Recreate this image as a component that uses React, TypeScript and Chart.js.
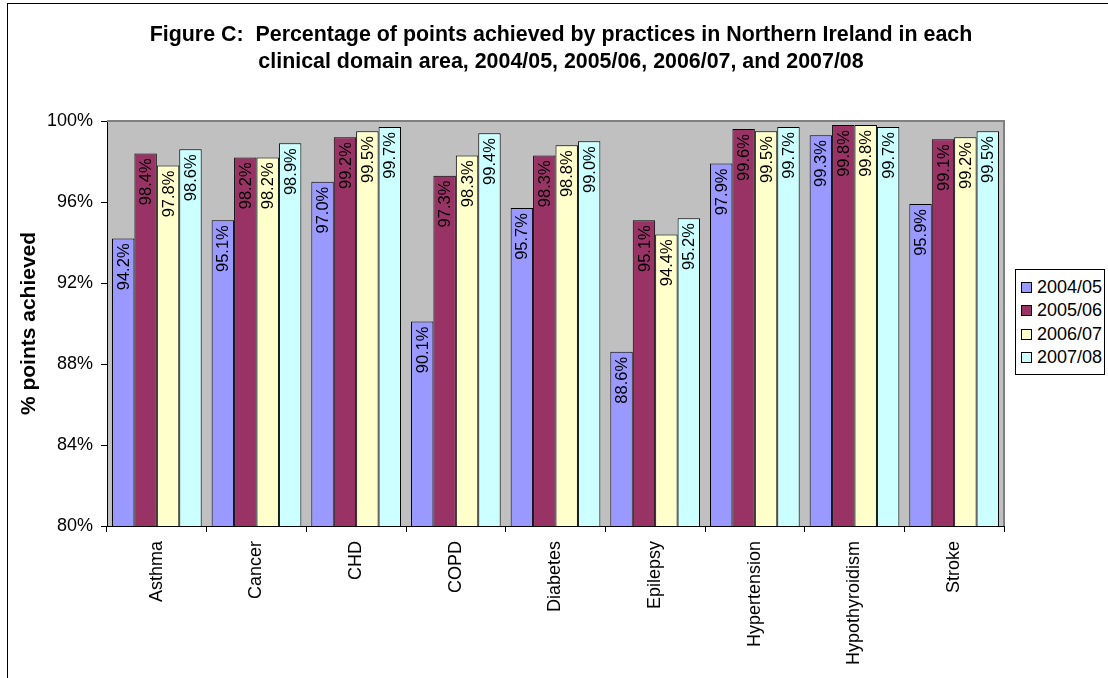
import React, { useEffect, useRef } from "react";
import { Chart, registerables } from "chart.js";

Chart.register(...registerables);

const categories = ["Asthma", "Cancer", "CHD", "COPD", "Diabetes", "Epilepsy", "Hypertension", "Hypothyroidism", "Stroke"];
const seriesNames = ["2004/05", "2005/06", "2006/07", "2007/08"];
const values2004 = [94.2, 95.1, 97.0, 90.1, 95.7, 88.6, 97.9, 99.3, 95.9];
const values2005 = [98.4, 98.2, 99.2, 97.3, 98.3, 95.1, 99.6, 99.8, 99.1];
const values2006 = [97.8, 98.2, 99.5, 98.3, 98.8, 94.4, 99.5, 99.8, 99.2];
const values2007 = [98.6, 98.9, 99.7, 99.4, 99.0, 95.2, 99.7, 99.7, 99.5];
const seriesValues = [values2004, values2005, values2006, values2007];
const seriesColors = ["#9999FF", "#993366", "#FFFFCC", "#CCFFFF"];
const yTicks = [80, 84, 88, 92, 96, 100];
const titleLines = [
  "Figure C:  Percentage of points achieved by practices in Northern Ireland in each",
  "clinical domain area, 2004/05, 2005/06, 2006/07, and 2007/08",
];
const yAxisTitle = "% points achieved";

const FONT = "'Liberation Sans', Arial, Helvetica, sans-serif";

const plotBgPlugin = {
  id: "plotBg",
  beforeDraw(chart: any) {
    const { ctx, chartArea } = chart;
    ctx.save();
    ctx.fillStyle = "#C0C0C0";
    ctx.fillRect(chartArea.left, chartArea.top, chartArea.right - chartArea.left, chartArea.bottom - chartArea.top);
    ctx.restore();
  },
  afterDraw(chart: any) {
    const { ctx, chartArea } = chart;
    ctx.save();
    ctx.strokeStyle = "#808080";
    ctx.lineWidth = 2;
    ctx.beginPath();
    ctx.moveTo(chartArea.left, chartArea.top);
    ctx.lineTo(chartArea.right, chartArea.top);
    ctx.lineTo(chartArea.right, chartArea.bottom);
    ctx.stroke();
    ctx.restore();
  },
};

const barLabelPlugin = {
  id: "barLabels",
  afterDatasetsDraw(chart: any) {
    const { ctx } = chart;
    ctx.save();
    ctx.font = `16.5px ${FONT}`;
    ctx.fillStyle = "#000";
    ctx.textAlign = "right";
    ctx.textBaseline = "middle";
    chart.data.datasets.forEach((ds: any, di: number) => {
      const meta = chart.getDatasetMeta(di);
      meta.data.forEach((bar: any, i: number) => {
        const v = ds.data[i];
        ctx.save();
        ctx.translate(bar.x + 1, bar.y + 5);
        ctx.rotate(-Math.PI / 2);
        ctx.fillText(v.toFixed(1) + "%", 0, 0);
        ctx.restore();
      });
    });
    ctx.restore();
  },
};

export default function App() {
  const ref = useRef<HTMLCanvasElement>(null);

  useEffect(() => {
    if (!ref.current) return;
    Chart.defaults.font.family = FONT;
    Chart.defaults.color = "#000";
    const chart = new Chart(ref.current, {
      type: "bar",
      data: {
        labels: categories,
        datasets: seriesNames.map((name, i) => ({
          label: name,
          data: seriesValues[i],
          backgroundColor: seriesColors[i],
          borderColor: "#000",
          borderWidth: 1,
          borderSkipped: false,
          categoryPercentage: 0.9,
          barPercentage: 1.0,
        })),
      },
      options: {
        responsive: false,
        animation: false,
        layout: { padding: { top: 121, right: 104, left: 0, bottom: 0 } },
        plugins: {
          legend: { display: false },
          title: { display: false },
          tooltip: { enabled: false },
        },
        scales: {
          x: {
            grid: { display: true, drawOnChartArea: false, drawTicks: true, tickLength: 6, color: "#000", offset: true },
            border: { display: true, color: "#000", width: 1 },
            ticks: { font: { size: 18 }, color: "#000", minRotation: 90, maxRotation: 90, padding: 9, autoSkip: false },
            afterFit: (scale: any) => {
              scale.height = 152;
            },
          },
          y: {
            min: 80,
            max: 100,
            afterBuildTicks: (scale: any) => {
              scale.ticks = yTicks.map((v) => ({ value: v }));
            },
            grid: { display: true, drawOnChartArea: false, drawTicks: true, tickLength: 6, color: "#000" },
            border: { display: true, color: "#000", width: 1 },
            ticks: { font: { size: 18 }, color: "#000", padding: 8, callback: (v: any) => v + "%" },
            title: {
              display: true,
              text: yAxisTitle,
              font: { size: 21, weight: "bold" },
              color: "#000",
              padding: { top: 17, bottom: 0 },
            },
            afterFit: (scale: any) => {
              scale.width = 107;
            },
          },
        },
      },
      plugins: [plotBgPlugin, barLabelPlugin],
    } as any);
    return () => chart.destroy();
  }, []);

  return (
    <div style={{ position: "fixed", left: 0, top: 0, width: 1108, height: 678, background: "#fff", overflow: "hidden", fontFamily: FONT }}>
      <div style={{ position: "absolute", left: 7, top: 3, width: 1200, height: 800, border: "1px solid #000", boxSizing: "border-box" }} />
      <canvas ref={ref} width={1108} height={678} style={{ position: "absolute", left: 0, top: 0, width: 1108, height: 678 }} />
      <div style={{ position: "absolute", left: 0, top: 21, width: 1122, textAlign: "center", fontWeight: "bold", fontSize: 21.4, lineHeight: "27px", color: "#000" }}>
        {titleLines.map((l, i) => (
          <div key={i} style={{ whiteSpace: "pre" }}>{l}</div>
        ))}
      </div>
      <div style={{ position: "absolute", left: 1015, top: 269, width: 90, height: 106, border: "1px solid #000", boxSizing: "border-box", background: "#fff", paddingTop: 6 }}>
        {seriesNames.map((n, i) => (
          <div key={n} style={{ display: "flex", alignItems: "center", height: 23.3, fontSize: 18, color: "#000" }}>
            <span style={{ display: "inline-block", width: 11, height: 11, boxSizing: "border-box", border: "1px solid #000", background: seriesColors[i], marginLeft: 5, marginRight: 5 }} />
            <span>{n}</span>
          </div>
        ))}
      </div>
    </div>
  );
}
